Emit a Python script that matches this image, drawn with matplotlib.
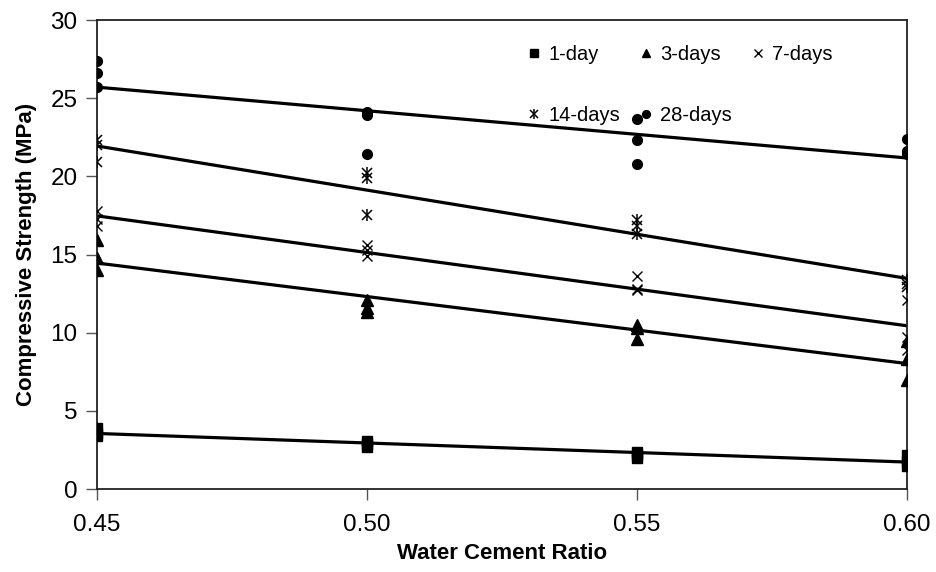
import numpy as np
import matplotlib
matplotlib.use("Agg")
import matplotlib.pyplot as plt
from matplotlib.legend_handler import HandlerTuple

plt.rcParams['font.family'] = ['Liberation Sans', 'DejaVu Sans']

# water cement ratios tested
wc = [0.45, 0.50, 0.55, 0.60]

# three specimens per ratio, strength in MPa
day1 = [[3.9, 3.6, 3.4], [3.1, 2.9, 2.7], [2.4, 2.2, 2.0], [2.2, 1.8, 1.5]]
day3 = [[15.9, 14.8, 14.0], [12.1, 11.6, 11.3], [10.5, 10.3, 9.6], [9.5, 8.3, 7.0]]
day7 = [[17.8, 17.3, 16.8], [15.6, 15.3, 14.9], [13.6, 12.8, 12.7], [12.1, 9.7, 8.9]]
day14 = [[22.3, 22.0, 20.9], [20.2, 19.9, 17.5], [17.2, 16.8, 16.3], [13.4, 13.1, 12.9]]
day28 = [[27.35, 26.6, 25.7], [24.1, 23.9, 21.4], [23.7, 22.35, 20.8], [22.4, 21.6, 21.4]]

labels = ['1-day', '3-days', '7-days', '14-days', '28-days']
xticks = ['0.45', '0.50', '0.55', '0.60']


def flat(vals):
    xs, ys = [], []
    for x, group in zip(wc, vals):
        for v in group:
            xs.append(x)
            ys.append(v)
    return np.array(xs), np.array(ys)


fig = plt.figure(figsize=(9.37, 5.72), dpi=100)
ax = fig.add_axes([0.1035, 0.145, 0.8645, 0.82])

handles = {}
series = [
    (day1, dict(marker='s', ms=7.5, ls='none', color='black')),
    (day3, dict(marker='^', ms=8, ls='none', color='black')),
    (day7, dict(marker='x', ms=7, mew=1.0, ls='none', color='black')),
    (day14, None),
    (day28, dict(marker='o', ms=7, ls='none', color='black')),
]

for (vals, style), lab in zip(series, labels):
    xs, ys = flat(vals)
    # linear trend line like excel
    k, b = np.polyfit(xs, ys, 1)
    xl = np.array([wc[0], wc[-1]])
    ax.plot(xl, k * xl + b, color='black', lw=2.3, zorder=2)
    if style is None:
        h1, = ax.plot(xs, ys, marker='x', ms=7, mew=1.1, ls='none', color='black', zorder=3)
        h2, = ax.plot(xs, ys, marker='|', ms=9, mew=1.1, ls='none', color='black', zorder=3)
        handles[lab] = (h1, h2)
    else:
        h, = ax.plot(xs, ys, zorder=3, **style)
        handles[lab] = h

ax.set_xlim(0.45, 0.60)
ax.set_ylim(0, 30)
ax.set_xticks(wc)
ax.set_xticklabels(xticks)
ax.set_yticks(range(0, 31, 5))
ax.tick_params(axis='both', direction='out', length=8, width=1.0, labelsize=17.5,
               color='#555555', pad=6)
ax.tick_params(axis='x', pad=10)
for s in ax.spines.values():
    s.set_linewidth(1.3)
    s.set_color('#222222')

ax.set_xlabel('Water Cement Ratio', fontsize=16, fontweight='bold', labelpad=5)
ax.set_ylabel('Compressive Strength (MPa)', fontsize=16, fontweight='bold', labelpad=10)

# legend in row order: 1,3,7 / 14,28
order = ['1-day', '14-days', '3-days', '28-days', '7-days']
leg = ax.legend([handles[o] for o in order], order, ncol=3, frameon=False,
                loc='upper left', bbox_to_anchor=(0.51, 0.985), fontsize=14.5,
                handlelength=0.6, handletextpad=0.4, columnspacing=1.0,
                labelspacing=2.1, markerscale=0.8,
                handler_map={tuple: HandlerTuple(ndivide=1)})

fig.savefig('out.png', dpi=100)
